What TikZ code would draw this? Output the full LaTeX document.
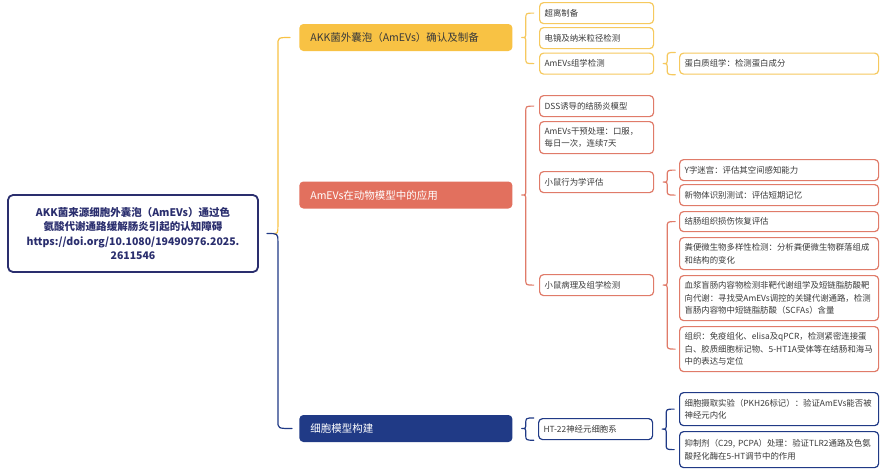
\documentclass[tikz,border=0pt]{standalone}
\usepackage{fontspec}
\setmainfont{Noto Sans CJK SC}
\usetikzlibrary{calc}
\definecolor{akkyel}{HTML}{F8C244}
\definecolor{akkyelline}{HTML}{F6C95E}
\definecolor{akkred}{HTML}{E2705E}
\definecolor{akkredline}{HTML}{E07B69}
\definecolor{akknav}{HTML}{203A86}
\definecolor{rootnav}{HTML}{2A2E6E}
\definecolor{leaftxt}{HTML}{3A3A3A}
\tikzset{every picture/.style={line width=0.75pt}}

\newcommand\curlybr[4]{%
  \draw[#1,line width=1.2pt]
    let \p1=(#2.east), \p2=(#3), \p3=(#4) in
    (\x1+21pt,\y2) .. controls (\x1+13pt,\y2) .. (\x1+13pt,\y2-6pt)
    -- (\x1+13pt,\y1+5pt) .. controls (\x1+13pt,\y1) .. (\x1+9pt,\y1)
    .. controls (\x1+13pt,\y1) .. (\x1+13pt,\y1-5pt)
    -- (\x1+13pt,\y3+6pt) .. controls (\x1+13pt,\y3) .. (\x1+21pt,\y3);}

\begin{document}
\begin{tikzpicture}[x=1pt, y=-1pt, line join=round, line cap=round,
  rootbox/.style={draw=rootnav, line width=1.8pt, rounded corners=5pt, fill=white, text=rootnav,
    font=\bfseries\fontsize{10.5}{14.6}\selectfont, align=center, minimum width=250pt, minimum height=77pt, inner sep=0pt},
  mainbox/.style={rounded corners=4pt, anchor=west, minimum height=27pt, inner xsep=11pt, inner ysep=0pt,
    text width=191pt, align=left, font=\fontsize{10.5}{13}\selectfont},
  leaf/.style={draw, rounded corners=4pt, line width=1.2pt, fill=white, anchor=north west, inner xsep=5pt,
    inner ysep=0pt, align=left, text=leaftxt, font=\fontsize{8.4}{12.6}\selectfont},
  leafa/.style={leaf, text width=104pt},
  leafb/.style={leaf, text width=189pt}]
\fill[white] (0,0) rectangle (885,472);
\useasboundingbox (0,0) rectangle (885,472);

\node[rootbox] (akk) at (133,233.5) {AKK菌来源细胞外囊泡（AmEVs）通过色\\氨酸代谢通路缓解肠炎引起的认知障碍\\https://doi.org/10.1080/19490976.2025.\\2611546};

\node[mainbox, fill=akkyel, text=leaftxt] (conf) at (299,37.5) {AKK菌外囊泡（AmEVs）确认及制备};
\node[mainbox, fill=akkred, text=white] (anim) at (299,195) {AmEVs在动物模型中的应用};
\node[mainbox, fill=akknav, text=white] (cell) at (299,428.5) {细胞模型构建};

% confirmation
\node[leafa, draw=akkyelline, minimum height=21pt] (conf1) at (539,2) {超离制备};
\node[leafa, draw=akkyelline, minimum height=21pt] (conf2) at (539,27) {电镜及纳米粒径检测};
\node[leafa, draw=akkyelline, minimum height=21pt] (conf3) at (539,52.5) {AmEVs组学检测};
\node[leafb, draw=akkyelline, minimum height=21pt] (conf3a) at (679,52.5) {蛋白质组学：检测蛋白成分};

% animal model
\node[leafa, draw=akkredline, minimum height=21pt] (anim1) at (539,95) {DSS诱导的结肠炎模型};
\node[leafa, draw=akkredline, minimum height=32pt] (anim2) at (539,121) {AmEVs干预处理：口服，\\每日一次，连续7天};
\node[leafa, draw=akkredline, minimum height=21pt] (anim3) at (539,171) {小鼠行为学评估};
\node[leafa, draw=akkredline, minimum height=21pt] (anim4) at (539,274) {小鼠病理及组学检测};
\node[leafb, draw=akkredline, minimum height=21pt] (anim3a) at (679,159) {Y字迷宫：评估其空间感知能力};
\node[leafb, draw=akkredline, minimum height=21pt] (anim3b) at (679,184) {新物体识别测试：评估短期记忆};
\node[leafb, draw=akkredline, minimum height=20pt] (anim4a) at (679,211) {结肠组织损伤恢复评估};
\node[leafb, draw=akkredline, minimum height=32pt] (anim4b) at (679,237) {粪便微生物多样性检测：分析粪便微生物群落组成\\和结构的变化};
\node[leafb, draw=akkredline, minimum height=45pt] (anim4c) at (679,275) {血浆盲肠内容物检测非靶代谢组学及短链脂肪酸靶\\向代谢：寻找受AmEVs调控的关键代谢通路，检测\\盲肠内容物中短链脂肪酸（SCFAs）含量};
\node[leafb, draw=akkredline, minimum height=45pt] (anim4d) at (679,326) {组织：免疫组化、elisa及qPCR，检测紧密连接蛋\\白、胶质细胞标记物、5-HT1A受体等在结肠和海马\\中的表达与定位};

% cell model
\node[leafa, draw=akknav, minimum height=21pt] (cell1) at (538,418) {HT-22神经元细胞系};
\node[leafb, draw=akknav, minimum height=33pt] (cell1a) at (679,392) {细胞摄取实验（PKH26标记）：验证AmEVs能否被\\神经元内化};
\node[leafb, draw=akknav, minimum height=36pt] (cell1b) at (679,431) {抑制剂（C29, PCPA）处理：验证TLR2通路及色氨\\酸羟化酶在5-HT调节中的作用};

% root brace
\draw[akkyel, line width=1.2pt] let \p1=(akk.east), \p2=(conf.west) in
  (\x1+14pt,\y1) .. controls (\x1+19pt,\y1) .. (\x1+19pt,\y1+8pt) -- (\x1+19pt,\y2-8pt)
  .. controls (\x1+19pt,\y2) .. (\x2-9pt,\y2);
\draw[akknav, line width=1.2pt] let \p1=(akk.east), \p2=(cell.west) in
  (\x1+8pt,\y1) .. controls (\x1+19pt,\y1) .. (\x1+19pt,\y1-8pt) -- (\x1+19pt,\y2+8pt)
  .. controls (\x1+19pt,\y2) .. (\x2-7pt,\y2);

\foreach \bc/\bp/\bt/\bb in {akkyelline/conf/conf1.west/conf3.west,
    akkyelline/conf3/conf3a.north west/conf3a.south west,
    akkredline/anim/anim1.west/anim4.west,
    akkredline/anim3/anim3a.west/anim3b.west,
    akkredline/anim4/anim4a.west/anim4d.west,
    akknav/cell/cell1.north west/cell1.south west,
    akknav/cell1/cell1a.west/cell1b.west}
  \curlybr{\bc}{\bp}{\bt}{\bb};
\end{tikzpicture}
\end{document}
